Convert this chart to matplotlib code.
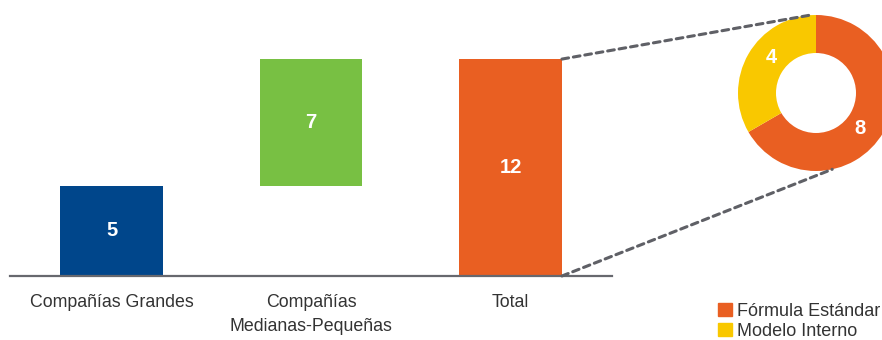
import numpy as np
import matplotlib
matplotlib.use("Agg")
import matplotlib.pyplot as plt
from matplotlib.patches import Patch, ConnectionPatch

plt.rcParams['font.family'] = ['Liberation Sans', 'DejaVu Sans']

# datos del gráfico de cascada
categorias = ["Compañías Grandes", "Compañías\nMedianas-Pequeñas", "Total"]
valores = [5, 7, 12]
base = [0, 5, 0]
colores_barras = ["#00468b", "#78c043", "#e95f22"]

# desglose del total
tipos = ["Fórmula Estándar", "Modelo Interno"]
desglose = [8, 4]
colores_donut = ["#e95f22", "#f9c800"]

W, H = 882, 340
fig = plt.figure(figsize=(W / 100, H / 100), dpi=100)

# barras
ax = fig.add_axes([10 / W, 64 / H, 602 / W, 235 / H])
x = np.arange(len(categorias))
ax.bar(x, valores, bottom=base, width=0.516, color=colores_barras)
for xi, v, b in zip(x, valores, base):
    ax.text(xi, b + v / 2, str(v), ha="center", va="center",
            color="white", fontsize=14.5, fontweight="bold")
ax.set_xlim(-0.509, 2.509)
ax.set_ylim(0, 13)
ax.set_xticks(x)
ax.set_xticklabels(categorias, fontsize=12.8, color="#333333", linespacing=1.55)
ax.tick_params(axis="x", length=0, pad=13)
ax.set_yticks([])
for s in ["top", "right", "left"]:
    ax.spines[s].set_visible(False)
ax.spines["bottom"].set_color("#67686e")
ax.spines["bottom"].set_linewidth(1.6)

# donut
r_out, r_in = 78, 40
ax2 = fig.add_axes([(816 - r_out) / W, (H - 93 - r_out) / H,
                    2 * r_out / W, 2 * r_out / H])
ax2.pie(desglose, colors=colores_donut, startangle=90, counterclock=False,
        radius=1, wedgeprops=dict(width=1 - r_in / r_out, linewidth=0))
ax2.set_xlim(-1, 1)
ax2.set_ylim(-1, 1)
ax2.axis("off")

# etiquetas del donut
acum = np.cumsum([0] + desglose)
total = sum(desglose)
for i, v in enumerate(desglose):
    mid = 90 - 360 * (acum[i] + acum[i + 1]) / 2 / total - 9
    rad = np.deg2rad(mid)
    ax2.text(0.73 * np.cos(rad), 0.73 * np.sin(rad), str(v), ha="center",
             va="center", color="white", fontsize=14.5, fontweight="bold")

# líneas de conexión
ancho = 0.516
for yb, ang in [(valores[2], 95), (0, -78)]:
    a = np.deg2rad(ang)
    con = ConnectionPatch(xyA=(2 + ancho / 2, yb), coordsA="data", axesA=ax,
                          xyB=(np.cos(a), np.sin(a)), coordsB="data", axesB=ax2,
                          color="#5f6066", linestyle=(0, (2.2, 1.6)), linewidth=2.2)
    fig.add_artist(con)

# leyenda
handles = [Patch(color=c, label=t) for c, t in zip(colores_donut, tipos)]
fig.legend(handles=handles, loc="upper left", bbox_to_anchor=(718 / W, 1 - 303 / H),
           frameon=False, fontsize=13, handlelength=0.75, handleheight=0.75,
           handletextpad=0.3, labelspacing=0.15, borderpad=0, borderaxespad=0,
           labelcolor="#333333")

fig.savefig("out.png", dpi=100)
